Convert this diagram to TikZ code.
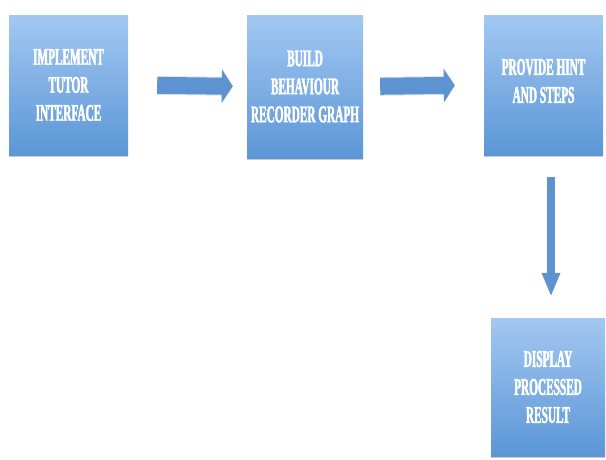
\documentclass[tikz,border=0pt]{standalone}
\usepackage{fontspec}
\newfontfamily\boxfont[FakeStretch=0.47,FakeBold=1.8]{Liberation Serif Bold}
\usetikzlibrary{arrows.meta,shadows,calc}
\definecolor{boxtop}{HTML}{A3C8F2}
\definecolor{boxbot}{HTML}{5B96D6}
\definecolor{arrowc}{HTML}{5E93D2}
\tikzset{
  boxtext/.style={text=white, align=center, font=\fontsize{24}{28}\boxfont, inner sep=0pt},
  stepbox/.style={rectangle, top color=boxtop, bottom color=boxbot, draw=none,
    drop shadow={shadow xshift=0pt, shadow yshift=-1.5pt, opacity=0.35, fill=black!60},
    boxtext},
  blockarrow/.style={draw=arrowc, line width=17pt,
    -{Triangle[length=11pt,width=33pt]},
    preaction={draw=black!25, line width=19pt, opacity=0.4, -{Triangle[length=11pt,width=35pt]}}}
}
\begin{document}
\begin{tikzpicture}[x=1pt,y=-1pt]
\useasboundingbox (0,0) rectangle (606,459);
\node[stepbox, minimum width=119pt, minimum height=140pt] (b1) at (68.5,85) {IMPLEMENT\\TUTOR\\INTERFACE};
\node[stepbox, minimum width=116pt, minimum height=143pt] (b2) at (305,86.5) {BUILD\\BEHAVIOUR\\RECORDER GRAPH};
\node[stepbox, minimum width=119pt, minimum height=140pt,
  label={[boxtext, yshift=4pt]center:{PROVIDE HINT\\AND STEPS}}] (b3) at (543.5,85) {};
\node[stepbox, minimum width=114pt, minimum height=138pt] (b4) at (548,387) {DISPLAY\\PROCESSED\\RESULT};
\draw[blockarrow, shorten <=29pt, shorten >=14pt] (b1.east) -- (b2.west);
\draw[blockarrow, shorten <=17pt, shorten >=29pt] (b2.east) -- (b3.west);
\coordinate (v1) at ($(b3.south)+(7.5,0)$);
\coordinate (v2) at (v1 |- b4.north);
\draw[draw=arrowc, line width=8pt, -{Triangle[length=24pt,width=17pt]}, shorten <=22pt, shorten >=21pt] (v1) -- (v2);
\end{tikzpicture}
\end{document}
